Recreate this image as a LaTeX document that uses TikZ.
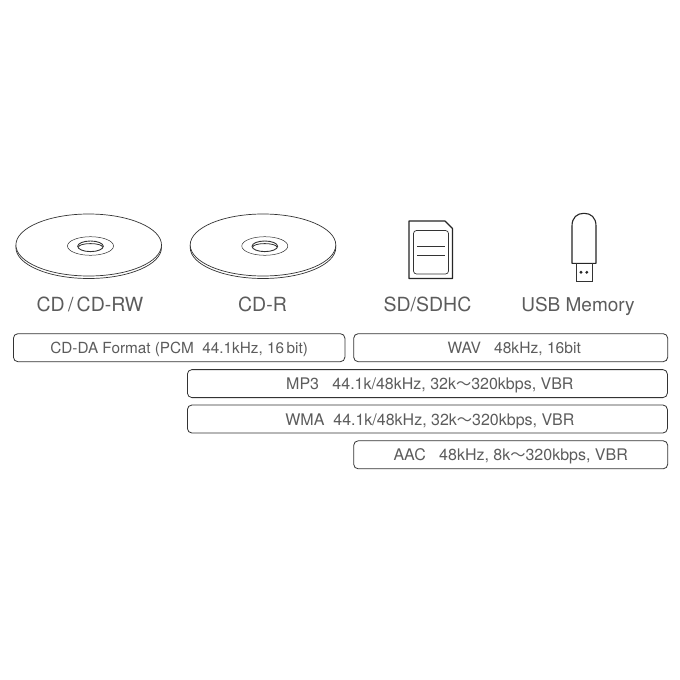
\documentclass[tikz,border=0pt]{standalone}
\usepackage{fontspec}
\setmainfont{TeX Gyre Heros}
\newfontfamily\cjk{Noto Sans CJK JP}[Scale=0.95]
\definecolor{ink}{gray}{0.2}
\definecolor{txt}{gray}{0.36}
\newcommand{\wave}{{\cjk ～}}
\tikzset{
  x=1pt,y=-1pt,
  fmt/.style={draw=ink,line width=0.8pt,rounded corners=4.5pt,minimum height=28pt,inner sep=0pt,text=txt,text height=12pt,text depth=0pt,font=\fontsize{16}{18}\selectfont,anchor=north west},
  lbl/.style={text=txt,font=\fontsize{19.5}{22}\selectfont,inner sep=0pt,anchor=base},
  line/.style={draw=ink,line width=0.7pt},
  heavy/.style={draw=black!85,line width=1.1pt,line join=round},
}
\newcommand{\disc}[1]{%
  \begin{scope}[shift={(#1,0)}]
    \draw[line] (-72.8,245) -- (-72.8,247.5) arc[start angle=180,end angle=0,x radius=72.8,y radius=31] -- (72.8,245);
    \draw[line,fill=white] (0,245) ellipse[x radius=72.8,y radius=31];
    \draw[line,line width=0.5pt] (1.8,246) ellipse[x radius=23,y radius=9.3];
    \draw[line,line width=0.9pt] (1.8,246.3) ellipse[x radius=12.8,y radius=5.3];
    \draw[line,line width=0.8pt] (-10.2,247) arc[start angle=180,end angle=360,x radius=12,y radius=3.4];
  \end{scope}}
\begin{document}
\begin{tikzpicture}
\useasboundingbox (0,0) rectangle (680,680);
\fill[white] (0,0) rectangle (680,680);
\disc{88.7}
\disc{263}
% SD card
\draw[heavy] (409,221) -- (445,221) -- (452.5,228.5) -- (452.5,278.5) -- (409,278.5) -- cycle;
\draw[line,rounded corners=3pt] (413.5,230.5) rectangle (448.5,274);
\draw[line,line width=0.5pt] (417,246.7) -- (445,246.7);
\draw[line,line width=0.5pt] (417,255) -- (445,255);
% USB stick
\draw[heavy] (572,263.3) -- (572,226) .. controls (572,217.5) and (577,213.3) .. (584,213.3) .. controls (591,213.3) and (596,217.5) .. (596,226) -- (596,263.3) -- cycle;
\draw[line,line width=0.9pt] (576,263.3) -- (576,281) -- (592.5,281) -- (592.5,263.3);
\fill[black!85] (581,272.3) circle[radius=1.6];
\fill[black!85] (586.8,272.3) circle[radius=1.6];
% labels
\node[lbl] (l1) at (90,311.5) {CD\,/\,CD-RW};
\node[lbl] (l2) at (262.5,311.5) {CD-R};
\node[lbl] (l3) at (427.5,311.5) {SD/SDHC};
\node[lbl,font=\fontsize{19}{22}\selectfont] (l4) at (578,311.5) {USB Memory};
% formats
\node[fmt,minimum width=331.5pt,font=\fontsize{15.3}{18}\selectfont] (cdda) at (13,333.3) {CD-DA Format (PCM\ \ 44.1kHz,\ 16\,bit)};
\node[fmt,minimum width=314pt,font=\fontsize{15.6}{18}\selectfont] (wav) at (353.3,333.3) {\hspace{7pt}WAV\ \ \ 48kHz, 16bit};
\node[fmt,minimum width=480pt] (mp3) at (187,369.2) {\hspace{5pt}MP3\ \ \ 44.1k/48kHz, 32k\wave 320kbps, VBR};
\node[fmt,minimum width=480pt] (wma) at (187,404.6) {\hspace{5pt}WMA\ \ 44.1k/48kHz, 32k\wave 320kbps, VBR};
\node[fmt,minimum width=314pt] (aac) at (353.3,440.4) {AAC\ \ \ 48kHz, 8k\wave 320kbps, VBR\hspace{5pt}};
\end{tikzpicture}
\end{document}
